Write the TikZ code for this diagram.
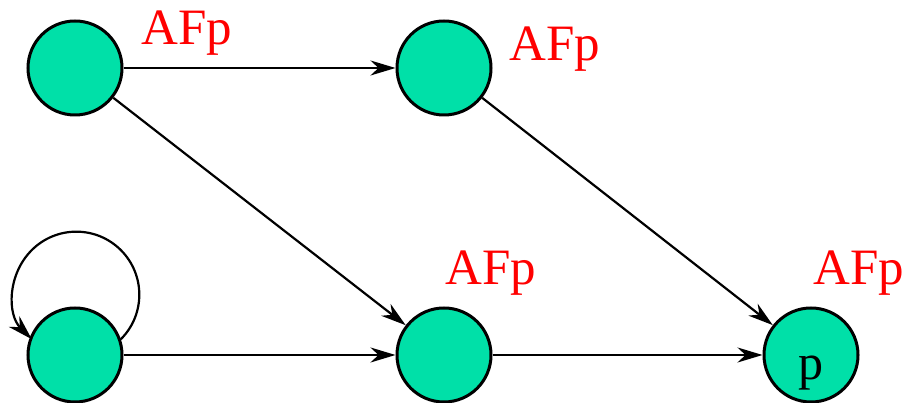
\documentclass[tikz,border=0pt]{standalone}
\usepackage{fontspec}
\setmainfont{Liberation Serif}
\usepackage{tikz}
\usetikzlibrary{arrows.meta, positioning}
\usepackage{xcolor}
\definecolor{stategreen}{HTML}{00E0A8}
\definecolor{afred}{HTML}{FF0000}

\begin{document}
\begin{tikzpicture}[x=1pt, y=1pt,
        state/.style={circle, draw=black, line width=3pt, fill=stategreen, minimum size=94pt, inner sep=0pt, font=\fontsize{50}{50}\selectfont},
        afp/.style={afred, anchor=base, inner sep=0pt, font=\fontsize{51}{51}\selectfont},
        trans/.style={line width=2.2pt, -{Stealth[length=25pt, width=15pt, inset=8pt]}}]
        \useasboundingbox (0,0) rectangle (907,403);
        % states
        \node[state] (s1) at (75,335) {};
        \node[state] (s2) at (444,335) {};
        \node[state] (s3) at (75,48) {};
        \node[state] (s4) at (444,48) {};
        \node[state, text height=50pt, text depth=0pt] (s5) at (811,48) {p};
        % labels
        \node[afp] (l1) at (187,358) {AFp};
        \node[afp] (l2) at (555,342) {AFp};
        \node[afp] (l4) at (491,118) {AFp};
        \node[afp] (l5) at (859,118) {AFp};
        % transitions
        \draw[trans] (s1) -- (s2);
        \draw[trans] (s1) -- (s4);
        \draw[trans] (s2) -- (s5);
        \draw[trans] (s3) -- (s4);
        \draw[trans] (s4) -- (s5);
        \draw[trans] (s3.19) arc[start angle=-45, end angle=225, radius=63];
      \end{tikzpicture}
\end{document}
